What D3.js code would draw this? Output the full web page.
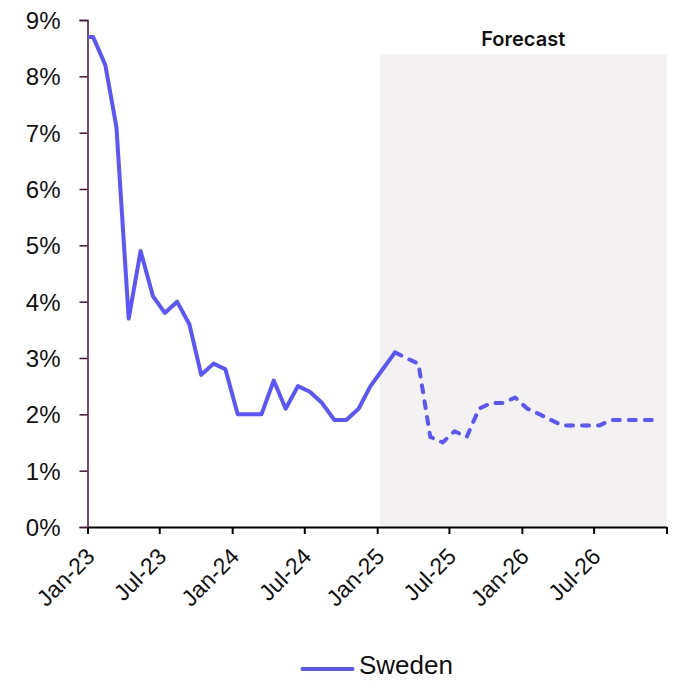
<!DOCTYPE html>
<html>
<head>
<meta charset="utf-8">
<script src="https://cdn.jsdelivr.net/npm/d3@7"></script>
<style>
  body { margin: 0; background: #fff; }
  svg { display: block; }
</style>
</head>
<body>
<svg id="chart" width="673" height="682"></svg>
<script>
// ---- Data ----
const months = ["Dec-22","Jan-23","Feb-23","Mar-23","Apr-23","May-23","Jun-23","Jul-23","Aug-23","Sep-23","Oct-23","Nov-23","Dec-23",
  "Jan-24","Feb-24","Mar-24","Apr-24","May-24","Jun-24","Jul-24","Aug-24","Sep-24","Oct-24","Nov-24","Dec-24",
  "Jan-25","Feb-25","Mar-25","Apr-25","May-25","Jun-25","Jul-25","Aug-25","Sep-25","Oct-25","Nov-25","Dec-25",
  "Jan-26","Feb-26","Mar-26","Apr-26","May-26","Jun-26","Jul-26","Aug-26","Sep-26","Oct-26","Nov-26","Dec-26"];
const actual = [8.7,8.7,8.2,7.1,3.7,4.9,4.1,3.8,4.0,3.6,2.7,2.9,2.8,
  2.0,2.0,2.0,2.6,2.1,2.5,2.4,2.2,1.9,1.9,2.1,2.5,
  2.8,3.1,null,null,null,null,null,null,null,null,null,null,
  null,null,null,null,null,null,null,null,null,null,null,null];
const forecast = [null,null,null,null,null,null,null,null,null,null,null,null,null,
  null,null,null,null,null,null,null,null,null,null,null,null,
  null,3.1,3.0,2.9,1.6,1.5,1.7,1.6,2.1,2.2,2.2,2.3,
  2.1,2.0,1.9,1.8,1.8,1.8,1.8,1.9,1.9,1.9,1.9,1.9];
const xTickLabels = ["Jan-23","Jul-23","Jan-24","Jul-24","Jan-25","Jul-25","Jan-26","Jul-26",""];
const yTicks = [0,1,2,3,4,5,6,7,8,9];
const seriesName = "Sweden";
const forecastLabel = "Forecast";
const forecastStart = "2025-01-08";
const domainStart = "2023-01-01", domainEnd = "2027-01-01";

// ---- Setup ----
const W = 673, H = 682;
const m = { top: 20, right: 6.5, bottom: 155, left: 87.5 };
const svg = d3.select("#chart");
const parseM = d3.timeParse("%b-%y");
const parseD = d3.timeParse("%Y-%m-%d");
const dates = months.map(s => { const d = parseM(s); d.setDate(15); return d; });

const x = d3.scaleTime().domain([parseD(domainStart), parseD(domainEnd)]).range([m.left, W - m.right]);
const y = d3.scaleLinear().domain([0, 9]).range([H - m.bottom, m.top]);

const lineColor = "#5b55ff";
const axisMaroon = "#4a1030";

// Forecast shading
const fx0 = x(parseD(forecastStart)), fx1 = W - m.right;
svg.append("rect")
  .attr("x", fx0).attr("y", m.top + 34.5)
  .attr("width", fx1 - fx0).attr("height", y(0) - m.top - 34.5)
  .attr("fill", "#f3f1f2");
svg.append("text")
  .attr("x", (fx0 + fx1) / 2).attr("y", 46)
  .attr("text-anchor", "middle")
  .attr("font-family", "Inter, 'Liberation Sans', sans-serif")
  .attr("font-weight", 600).attr("font-size", 20)
  .attr("fill", "#111")
  .text(forecastLabel);

// Clip
svg.append("clipPath").attr("id", "plotclip")
  .append("rect").attr("x", m.left + 0.5).attr("y", 0).attr("width", W - m.left - m.right).attr("height", H - m.bottom);

// X axis
const tickDates = d3.range(0, 9).map(i => d3.timeMonth.offset(parseD(domainStart), i * 6));
const xAxis = svg.append("g")
  .attr("transform", `translate(0,${y(0)})`)
  .call(d3.axisBottom(x).tickValues(tickDates).tickSize(7).tickSizeOuter(0)
    .tickFormat((d, i) => xTickLabels[i]));
xAxis.select(".domain").attr("stroke", "#000").attr("stroke-width", 2);
xAxis.selectAll(".tick line").attr("stroke", "#000").attr("stroke-width", 2);
xAxis.selectAll(".tick text")
  .attr("font-family", "'Liberation Sans', Arial, sans-serif")
  .attr("font-size", 23).attr("fill", "#111")
  .attr("text-anchor", "end")
  .attr("dy", 0).attr("y", 0)
  .attr("transform", "translate(8,31) rotate(-45)");

// Y axis
const yAxis = svg.append("g")
  .attr("transform", `translate(${m.left},0)`)
  .call(d3.axisLeft(y).tickValues(yTicks).tickSize(8).tickFormat(d => d + "%"));
yAxis.select(".domain").attr("stroke", axisMaroon).attr("stroke-width", 1.5);
yAxis.selectAll(".tick line").attr("stroke", axisMaroon).attr("stroke-width", 1.5);
yAxis.selectAll(".tick text")
  .attr("font-family", "'Liberation Sans', Arial, sans-serif")
  .attr("font-size", 24).attr("fill", "#111")
  .attr("x", -27).attr("dy", "0.35em");

// Lines
const pts = (vals) => vals.map((v, i) => ({ d: dates[i], v }));
const line = d3.line().defined(p => p.v != null).x(p => x(p.d)).y(p => y(p.v));
const g = svg.append("g").attr("clip-path", "url(#plotclip)");
g.append("path").datum(pts(actual))
  .attr("d", line).attr("fill", "none")
  .attr("stroke", lineColor).attr("stroke-width", 4)
  .attr("stroke-linejoin", "round");
g.append("path").datum(pts(forecast))
  .attr("d", line).attr("fill", "none")
  .attr("stroke", lineColor).attr("stroke-width", 4)
  .attr("stroke-linejoin", "round").attr("stroke-linecap", "round")
  .attr("stroke-dasharray", "7,9");

// Legend
const lg = svg.append("g");
lg.append("line").attr("x1", 302.5).attr("x2", 352.5).attr("y1", 669).attr("y2", 669)
  .attr("stroke", lineColor).attr("stroke-width", 4).attr("stroke-linecap", "round");
lg.append("text").attr("x", 359).attr("y", 673.5)
  .attr("font-family", "'Liberation Sans', Arial, sans-serif")
  .attr("font-size", 26).attr("fill", "#111")
  .text(seriesName);
</script>
</body>
</html>
